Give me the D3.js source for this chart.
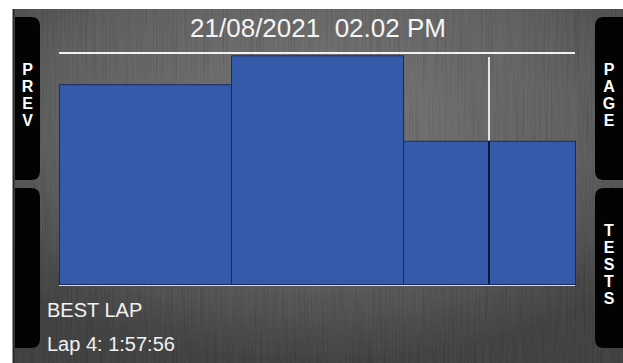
<!DOCTYPE html>
<html>
<head>
<meta charset="utf-8">
<script src="https://cdn.jsdelivr.net/npm/d3@7"></script>
<style>
  html, body { margin: 0; padding: 0; background: #ffffff; }
  svg { display: block; }
  text { font-family: "Liberation Sans", Arial, sans-serif; }
</style>
</head>
<body>
<svg id="chart" width="623" height="363"></svg>
<script>
// Lap data: how much of the track each lap spans, and its bar value
const laps = ["Lap 1", "Lap 2", "Lap 3", "Lap 4"];
const lapSpans = [2, 2, 1, 1];
const lapValues = [86.5, 99, 62, 62];
const bestLapIndex = 3;
const yMax = 100;

const titleText = "21/08/2021  02.02 PM";
const bestLabel = "BEST LAP";
const bestTime = "Lap 4: 1:57:56";
const leftTabs = ["PREV", ""];
const rightTabs = ["PAGE", "TESTS"];

const svg = d3.select("#chart");
const W = 623, H = 363;
const frame = { x: 13, y: 9, w: W - 13, h: H - 9 };
const plot = { left: 59, right: 575, top: 53, bottom: 284 };

const defs = svg.append("defs");

// brushed-metal backdrop
const rg = defs.append("radialGradient").attr("id", "metal")
  .attr("cx", "50%").attr("cy", "30%").attr("r", "70%");
rg.append("stop").attr("offset", "0%").attr("stop-color", "#787878");
rg.append("stop").attr("offset", "60%").attr("stop-color", "#636363");
rg.append("stop").attr("offset", "100%").attr("stop-color", "#444444");

const brush = defs.append("filter").attr("id", "brush")
  .attr("x", 0).attr("y", 0).attr("width", "100%").attr("height", "100%");
brush.append("feTurbulence").attr("type", "fractalNoise")
  .attr("baseFrequency", "0.9 0.012").attr("numOctaves", 2).attr("seed", 4)
  .attr("result", "noise");
brush.append("feColorMatrix").attr("in", "noise").attr("type", "matrix")
  .attr("values", "0 0 0 0 0  0 0 0 0 0  0 0 0 0 0  0 0 0 -0.6 0.32")
  .attr("result", "streaks");
brush.append("feComposite").attr("in", "streaks").attr("in2", "SourceGraphic")
  .attr("operator", "in").attr("result", "shade");
brush.append("feMerge").call(m => {
  m.append("feMergeNode").attr("in", "SourceGraphic");
  m.append("feMergeNode").attr("in", "shade");
});

svg.append("rect")
  .attr("x", frame.x).attr("y", frame.y)
  .attr("width", frame.w).attr("height", frame.h)
  .attr("fill", "url(#metal)")
  .attr("filter", "url(#brush)");

svg.append("line")
  .attr("x1", frame.x + 0.5).attr("x2", frame.x + 0.5)
  .attr("y1", frame.y).attr("y2", H)
  .attr("stroke", "#2a2a2a").attr("stroke-width", 2);

// side tabs: black blocks rounded on their inner side
function tabPath(x0, x1, y0, y1, r, roundRight) {
  if (roundRight) {
    return `M${x0},${y0} H${x1 - r} Q${x1},${y0} ${x1},${y0 + r} V${y1 - r} Q${x1},${y1} ${x1 - r},${y1} H${x0} Z`;
  }
  return `M${x1},${y0} H${x0 + r} Q${x0},${y0} ${x0},${y0 + r} V${y1 - r} Q${x0},${y1} ${x0 + r},${y1} H${x1} Z`;
}
const tabRows = [[17, 180], [188, 348]];

// each tab label is one text, its letters stacked as tspans
function drawTabs(labels, x0, x1, roundRight) {
  labels.forEach((label, i) => {
    const [y0, y1] = tabRows[i];
    svg.append("path")
      .attr("d", tabPath(x0, x1, y0, y1, 9, roundRight))
      .attr("fill", "#030303");
    if (!label) return;
    const letters = label.split("");
    const step = 17;
    const cx = (x0 + x1) / 2;
    const firstY = (y0 + y1) / 2 - 4 - (letters.length - 1) / 2 * step + 6;
    svg.append("text")
      .attr("text-anchor", "middle")
      .attr("font-size", 16).attr("font-weight", "bold")
      .attr("fill", "#ffffff")
      .selectAll("tspan").data(letters).join("tspan")
      .attr("x", cx)
      .attr("y", (d, j) => firstY + j * step)
      .text(d => d);
  });
}
drawTabs(leftTabs, 15, 40, true);
drawTabs(rightTabs, 595, 623, false);

// scales
const cum = d3.cumsum(lapSpans);
const starts = lapSpans.map((s, i) => cum[i] - s);
const x = d3.scaleLinear().domain([0, d3.sum(lapSpans)]).range([plot.left, plot.right]);
const y = d3.scaleLinear().domain([0, yMax]).range([plot.bottom, plot.top]);

// top reference line
svg.append("line")
  .attr("x1", x(0)).attr("x2", x(d3.sum(lapSpans)))
  .attr("y1", y(yMax)).attr("y2", y(yMax))
  .attr("stroke", "#f2f2f2").attr("stroke-width", 2);

// bars
svg.append("g").selectAll("rect").data(laps).join("rect")
  .attr("x", (d, i) => x(starts[i]) + 0.5)
  .attr("y", (d, i) => y(lapValues[i]) + 0.5)
  .attr("width", (d, i) => x(cum[i]) - x(starts[i]))
  .attr("height", (d, i) => y(0) - y(lapValues[i]))
  .attr("fill", "#355aa9")
  .attr("stroke", "#1d2a62").attr("stroke-width", 1);

// baseline
svg.append("line")
  .attr("x1", x(0)).attr("x2", x(d3.sum(lapSpans)))
  .attr("y1", y(0) + 1.5).attr("y2", y(0) + 1.5)
  .attr("stroke", "#d8d8d8").attr("stroke-width", 1);

// best lap marker
const bx = x(starts[bestLapIndex]);
svg.append("line")
  .attr("x1", bx).attr("x2", bx)
  .attr("y1", y(yMax) + 4).attr("y2", y(lapValues[bestLapIndex]))
  .attr("stroke", "#e4e4e4").attr("stroke-width", 2);
svg.append("line")
  .attr("x1", bx).attr("x2", bx)
  .attr("y1", y(lapValues[bestLapIndex])).attr("y2", y(0))
  .attr("stroke", "#0f1836").attr("stroke-width", 2);

// title
svg.append("text")
  .attr("x", 318).attr("y", 37)
  .attr("text-anchor", "middle")
  .attr("font-size", 26)
  .attr("fill", "#f4f4f4")
  .style("white-space", "pre")
  .text(titleText);

// best lap readout
svg.append("text")
  .attr("x", 47).attr("y", 317)
  .attr("font-size", 20).attr("fill", "#f2f2f2")
  .text(bestLabel);
svg.append("text")
  .attr("x", 47).attr("y", 351)
  .attr("font-size", 20).attr("fill", "#f2f2f2")
  .text(bestTime);
</script>
</body>
</html>
